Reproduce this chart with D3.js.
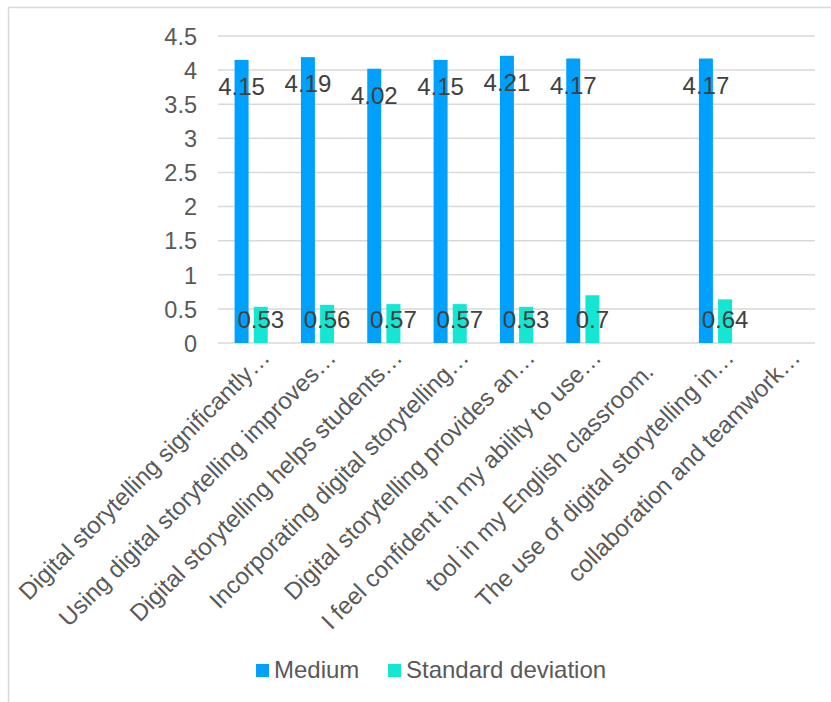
<!DOCTYPE html>
<html>
<head>
<meta charset="utf-8">
<script src="https://cdn.jsdelivr.net/npm/d3@7"></script>
<style>
  html, body { margin: 0; padding: 0; background: #fff; }
  svg { display: block; font-family: "Liberation Sans", Arial, sans-serif; }
</style>
</head>
<body>
<svg id="chart" width="831" height="702"></svg>
<script>
const categories = [
  "Digital storytelling significantly…",
  "Using digital storytelling improves…",
  "Digital storytelling helps students…",
  "Incorporating digital storytelling…",
  "Digital storytelling provides an…",
  "I feel confident in my ability to use…",
  "tool in my English classroom.\u00a0\u00a0\u00a0",
  "The use of digital storytelling in…",
  "collaboration and teamwork…"
];
const seriesNames = ["Medium", "Standard deviation"];
const mediumValues = [4.15, 4.19, 4.02, 4.15, 4.21, 4.17, null, 4.17, null];
const stdValues = [0.53, 0.56, 0.57, 0.57, 0.53, 0.7, null, 0.64, null];
const yTicks = [0, 0.5, 1, 1.5, 2, 2.5, 3, 3.5, 4, 4.5];

const colors = { "Medium": "#00a0fe", "Standard deviation": "#15e6d2" };
const svg = d3.select("#chart");

// chart area border (extends past right/bottom edge)
svg.append("rect").attr("x", 8.5).attr("y", 7.5).attr("width", 900).attr("height", 800)
  .attr("fill", "none").attr("stroke", "#d9d9d9").attr("stroke-width", 1.5);

const plot = { left: 218, right: 815, top: 36, bottom: 343 };
const x = d3.scaleBand().domain(d3.range(categories.length))
  .range([plot.left, plot.right]).paddingInner(0.5).paddingOuter(0.25);
const xs = d3.scaleBand().domain(seriesNames).range([0, x.bandwidth()]).paddingInner(0.27).paddingOuter(0);
const y = d3.scaleLinear().domain([0, 4.5]).range([plot.bottom, plot.top]);

// gridlines
svg.append("g").selectAll("line").data(yTicks).join("line")
  .attr("x1", plot.left).attr("x2", plot.right)
  .attr("y1", d => y(d)).attr("y2", d => y(d))
  .attr("stroke", "#d9d9d9").attr("stroke-width", 1.5);

// y axis labels
const yAxis = d3.axisLeft(y).tickValues(yTicks).tickSize(0).tickPadding(0).tickFormat(d3.format("~g"));
const yg = svg.append("g").attr("transform", "translate(197,0)").call(yAxis);
yg.select(".domain").remove();
yg.selectAll("text").attr("fill", "#595959").style("font-size", "23.5px")
  .style("font-family", "'Liberation Sans', Arial, sans-serif").attr("dy", "0.35em");

const data = categories.map((c, i) => ({ i, c, vals: [
  { s: "Medium", v: mediumValues[i] },
  { s: "Standard deviation", v: stdValues[i] }
]}));

const groups = svg.append("g").selectAll("g").data(data).join("g")
  .attr("transform", d => `translate(${x(d.i)},0)`);

groups.selectAll("rect").data(d => d.vals.filter(v => v.v != null)).join("rect")
  .attr("x", d => xs(d.s)).attr("width", xs.bandwidth())
  .attr("y", d => y(d.v)).attr("height", d => y(0) - y(d.v))
  .attr("fill", d => colors[d.s]);

// data labels
groups.selectAll("text").data(d => d.vals.filter(v => v.v != null)).join("text")
  .attr("x", d => xs(d.s) + xs.bandwidth() / 2)
  .attr("y", d => d.s === "Medium" ? y(d.v) + 35 : y(0) - 15)
  .attr("text-anchor", "middle").attr("fill", "#404040").style("font-size", "24px")
  .text(d => d3.format("~g")(d.v));

// x labels
svg.append("g").selectAll("text").data(data).join("text")
  .attr("transform", d => `translate(${x(d.i) + x.bandwidth() / 2 + 20},359) rotate(-45)`)
  .attr("text-anchor", "end").attr("fill", "#595959").style("font-size", "24px")
  .text(d => d.c);

// legend
const legendX = [256, 388];
const lg = svg.append("g").selectAll("g").data(seriesNames).join("g")
  .attr("transform", (d, i) => `translate(${legendX[i]},664)`);
lg.append("rect").attr("width", 13).attr("height", 13).attr("fill", d => colors[d]);
lg.append("text").attr("x", 18).attr("y", 14).attr("fill", "#595959")
  .style("font-size", "24px").text(d => d);
</script>
</body>
</html>
